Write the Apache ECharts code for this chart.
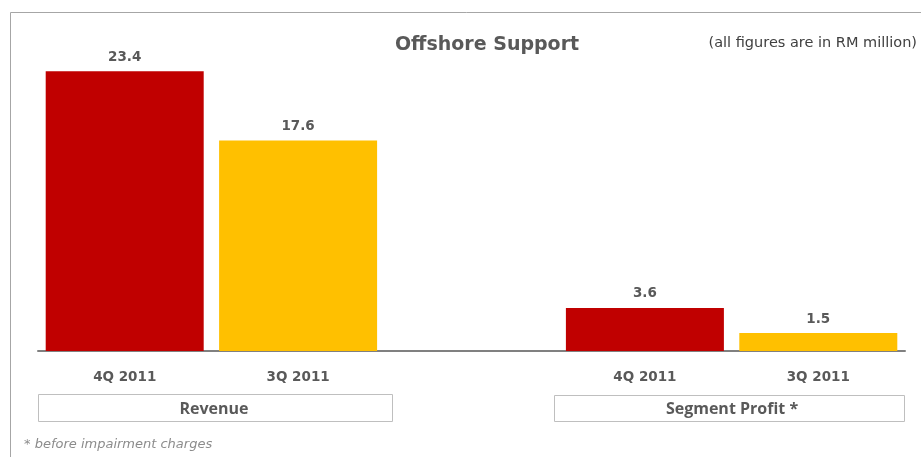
<!DOCTYPE html>
<html><head><meta charset="utf-8">
<script src="https://cdn.jsdelivr.net/npm/echarts@6/dist/echarts.min.js"></script>
<style>html,body{margin:0;padding:0;background:#fff}#c{width:921px;height:457px}</style>
</head><body><div id="c"></div>
<script>
const categories = ['4Q 2011', '3Q 2011', '', '4Q 2011', '3Q 2011'];
const values = [23.4, 17.6, null, 3.6, 1.5];
const barColors = ['#C00000', '#FFC000', '#FFFFFF', '#C00000', '#FFC000'];
const groupLabels = ['Revenue', 'Segment Profit *'];
const titleText = 'Offshore Support';
const unitText = '(all figures are in RM million)';
const footnote = '* before impairment charges';

const chart = echarts.init(document.getElementById('c'), null, {renderer: 'canvas'});
const textColor = '#595959';
chart.setOption({
  animation: false,
  backgroundColor: '#fff',
  grid: {left: 38, right: 16, top: 52, bottom: 106, containLabel: false},
  xAxis: {
    type: 'category', data: categories,
    axisLine: {lineStyle: {color: '#808080', width: 2}},
    axisTick: {show: false},
    axisLabel: {margin: 19, color: textColor, fontFamily: 'DejaVu Sans', fontWeight: 'bold', fontSize: 13.5}
  },
  yAxis: {type: 'value', min: 0, max: 25, show: false, splitLine: {show: false}},
  series: [{
    type: 'bar', barWidth: 158,
    data: values.map((v, i) => ({value: v, itemStyle: {color: barColors[i]}})),
    label: {show: true, position: 'top', distance: 7, color: textColor,
      fontFamily: 'DejaVu Sans', fontWeight: 'bold', fontSize: 13.5,
      formatter: p => p.value == null ? '' : p.value.toFixed(1)}
  }],
  graphic: [
    {type: 'rect', shape: {x: 10.5, y: 12.5, width: 1000, height: 600}, style: {fill: 'none', stroke: '#A6A6A6', lineWidth: 1}, z: -1},
    {type: 'text', x: 487, y: 45, style: {text: titleText, align: 'center', verticalAlign: 'middle', fill: textColor, font: 'bold 19px "DejaVu Sans"'}},
    {type: 'text', x: 917, y: 43, style: {text: unitText, align: 'right', verticalAlign: 'middle', fill: '#404040', font: '14.5px "DejaVu Sans"'}},
    {type: 'rect', shape: {x: 38.5, y: 394.5, width: 354, height: 27}, style: {fill: '#fff', stroke: '#BFBFBF', lineWidth: 1}},
    {type: 'text', x: 214, y: 409, style: {text: groupLabels[0], align: 'center', verticalAlign: 'middle', fill: textColor, font: 'bold 16px "Open Sans"'}},
    {type: 'rect', shape: {x: 554.5, y: 395.5, width: 350, height: 26}, style: {fill: '#fff', stroke: '#BFBFBF', lineWidth: 1}},
    {type: 'text', x: 732, y: 409, style: {text: groupLabels[1], align: 'center', verticalAlign: 'middle', fill: textColor, font: 'bold 16px "Open Sans"'}},
    {type: 'text', x: 24, y: 445, style: {text: footnote, align: 'left', verticalAlign: 'middle', fill: '#8C8C8C', font: 'italic 13px "DejaVu Sans"'}}
  ]
});
</script></body></html>
